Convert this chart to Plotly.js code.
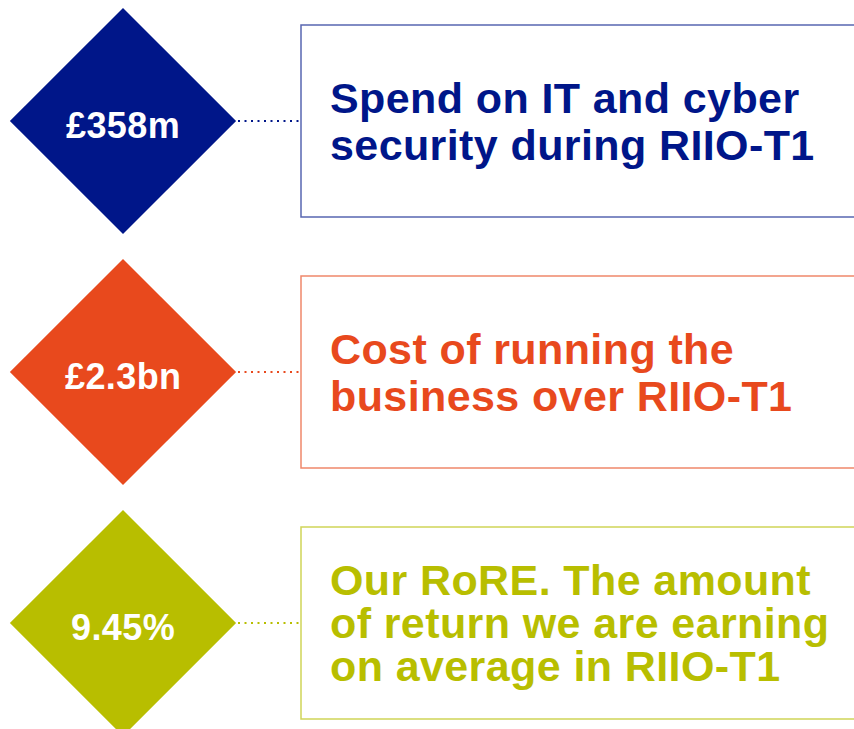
<!DOCTYPE html>
<html>
<head>
<meta charset="utf-8">
<script src="https://cdn.plot.ly/plotly-3.0.1.min.js"></script>
<style>
  html, body { margin: 0; padding: 0; background: #ffffff; }
  #chart { width: 854px; height: 729px; }
  /* the original type is a touch wider than Liberation Sans */
  .annotation-text { letter-spacing: 0.4px; }
</style>
</head>
<body>
<div id="chart"></div>
<script>
// Headline figures and their descriptions (one row each)
const values = ["£358m", "£2.3bn", "9.45%"];
const descriptions = [
  ["Spend on IT and cyber", "security during RIIO-T1"],
  ["Cost of running the", "business over RIIO-T1"],
  ["Our RoRE. The amount", "of return we are earning", "on average in RIIO-T1"]
];
const colors = ["#001689", "#e8491d", "#b8be00"];

// Layout in pixel units (axes are set to match the page size)
const W = 854, H = 729;
const firstRowY = 121;
const rowStep = 251;
const diamondX = 123;
const diamondSize = 174;   // plotly diamond half-diagonal = 1.3 * size / 2
const linkStart = 238, boxLeft = 301;
const boxHalfHeight = 96;
const textLeft = 328;
const font = "Liberation Sans, Arial, Helvetica, sans-serif";

const rowY = i => firstRowY + rowStep * i;

const traces = [];
const shapes = [];
const annotations = [];

values.forEach((val, i) => {
    const y = rowY(i);

    // dotted connector from diamond to box
    traces.push({
        x: [linkStart, boxLeft - 1],
        y: [y, y],
        type: "scatter",
        mode: "lines",
        hoverinfo: "skip",
        line: { color: colors[i], width: 2, dash: "2px,4.5px" }
    });

    // outlined box running off the right edge
    shapes.push({
        type: "rect",
        xref: "x", yref: "y",
        x0: boxLeft, x1: W + 30,
        y0: y - boxHalfHeight, y1: y + boxHalfHeight,
        line: { color: colors[i], width: 1.5 },
        fillcolor: "rgba(0,0,0,0)",
        opacity: 0.65
    });

    // figure inside the diamond (sits a little below centre)
    annotations.push({
        x: diamondX, y: y,
        xref: "x", yref: "y",
        xanchor: "center", yanchor: "middle",
        yshift: -4,
        text: val,
        showarrow: false,
        font: { family: font, size: 36, color: "#ffffff", weight: "bold" }
    });

    // description lines, centred on the row
    const lines = descriptions[i];
    const step = lines.length > 2 ? 43 : 47;
    lines.forEach((txt, k) => {
        annotations.push({
            x: textLeft,
            y: y + (k - (lines.length - 1) / 2) * step,
            xref: "x", yref: "y",
            xanchor: "left", yanchor: "middle",
            text: txt,
            showarrow: false,
            font: { family: font, size: 43, color: colors[i], weight: "bold" }
        });
    });
});

// diamonds
traces.push({
    x: values.map(() => diamondX),
    y: values.map((v, i) => rowY(i)),
    type: "scatter",
    mode: "markers",
    hoverinfo: "skip",
    cliponaxis: false,
    marker: {
        symbol: "diamond",
        size: diamondSize,
        color: colors,
        line: { width: 0 }
    }
});

const layout = {
    width: W,
    height: H,
    margin: { t: 0, l: 0, r: 0, b: 0 },
    paper_bgcolor: "#ffffff",
    plot_bgcolor: "#ffffff",
    showlegend: false,
    xaxis: { range: [0, W], visible: false, fixedrange: true },
    yaxis: { range: [H, 0], visible: false, fixedrange: true },
    shapes: shapes,
    annotations: annotations
};

Plotly.newPlot("chart", traces, layout, { displayModeBar: false, staticPlot: true });
</script>
</body>
</html>
